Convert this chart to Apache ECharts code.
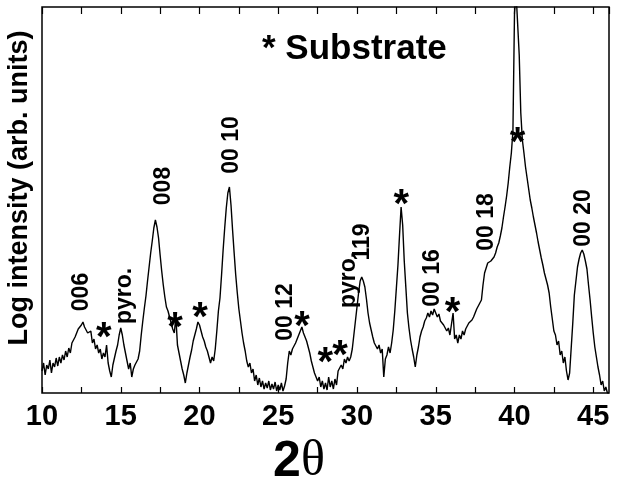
<!DOCTYPE html>
<html>
<head>
<meta charset="utf-8">
<script src="https://cdn.jsdelivr.net/npm/echarts@6/dist/echarts.min.js"></script>
<style>
html,body{margin:0;padding:0;background:#fff;}
#c{width:617px;height:486px;}
</style>
</head>
<body>
<div id="c"></div>
<script>
// 2-theta sampling grid (degrees)
const thetaStart = 10;
const thetaStep = 0.1;
// log intensity (arb. units), one value per 0.1 deg from 10.0 to 46.0
const intensity = [
  22,30,18,28,24,33,20,30,26,35,
  27,36,30,38,33,42,36,45,40,50,
  52,56,60,64,62,68,71,66,64,60,
  58,62,50,54,44,48,40,44,34,40,
  36,48,30,22,16,28,30,42,48,58,
  65,58,48,40,32,24,30,16,24,28,
  28,34,42,58,72,85,97,112,126,140,
  152,165,173,166,155,138,122,108,96,86,
  82,76,70,64,60,76,48,40,32,24,
  18,10,20,28,36,43,52,58,64,71,
  68,62,56,52,46,42,36,30,36,32,
  44,62,82,95,118,143,165,185,200,206,
  188,163,140,118,100,84,72,60,50,42,
  32,26,30,20,24,12,18,8,15,6,
  12,4,10,5,12,3,9,4,11,2,
  8,3,10,2,7,14,30,42,38,44,
  46,50,54,58,62,66,60,56,52,46,
  40,32,26,20,16,12,16,6,12,4,
  10,3,16,6,12,4,14,8,22,24,
  28,24,34,30,36,32,36,44,58,72,
  86,100,112,116,112,106,94,80,70,63,
  56,50,52,44,48,40,44,16,34,38,
  46,40,50,63,82,105,128,158,186,168,
  132,106,80,65,53,44,36,26,38,46,
  56,62,66,72,75,80,76,82,78,84,
  80,76,79,72,74,68,70,62,65,58,
  60,80,54,58,50,58,54,62,58,64,
  64,70,68,73,76,80,84,86,90,93,
  108,120,125,130,128,132,134,136,140,146,
  150,157,165,176,186,197,210,226,240,262,
  380,400,400,338,280,253,240,226,215,204,
  193,185,176,168,160,151,143,135,128,120,
  118,108,100,86,74,62,58,48,52,38,
  42,30,36,22,13,20,45,70,98,112,
  126,134,140,143,139,132,124,108,93,76,
  60,46,36,26,18,8,12,2,6,0,
  0
];
// peak annotations (2theta, intensity of label centre)
const annText = ['006','*','pyro.','008','*','*','00 10','00 12','*','*','*','pyro.','119','*','00 16','*','00 18','*','00 20'];
const annX    = [12.52,13.92,15.25,17.74,18.44,20.03,22.06,25.50,26.51,27.98,28.93,29.50,30.39,32.81,34.78,36.06,38.22,40.19,44.39];
const annY    = [101,63,97,207,73,83,248,81,74,38,45,113,151,196,115,88,171,258,175];
const annVertical = [1,0,1,1,0,0,1,1,0,0,0,1,1,0,1,0,1,0,1];
const legendText = '* Substrate';
const xName = '2';
const xNameSym = 'θ';
const yName = 'Log intensity (arb. units)';

const chart = echarts.init(document.getElementById('c'));
const data = intensity.map((v, i) => [+(thetaStart + i * thetaStep).toFixed(2), v]);
const tickStyle = {color:'#000', width:1.2};
chart.setOption({
  animation:false,
  grid:{left:42, right:8, top:7, bottom:93, show:true, borderColor:'#000', borderWidth:1.5, backgroundColor:'transparent'},
  xAxis:[
    {type:'value', min:10, max:46, interval:2.5, position:'bottom',
     axisLine:{show:false},
     axisTick:{show:true, inside:true, length:6, lineStyle:tickStyle},
     axisLabel:{formatter:v => (v % 5 === 0 ? String(v) : ''), showMaxLabel:false, showMinLabel:true,
       color:'#000', fontFamily:'Liberation Sans', fontWeight:'bold', fontSize:29, margin:9},
     splitLine:{show:false}},
    {type:'value', min:10, max:46, interval:2.5, position:'top',
     axisLine:{show:false},
     axisTick:{show:true, inside:true, length:7, lineStyle:tickStyle},
     axisLabel:{show:false}, splitLine:{show:false}}
  ],
  yAxis:{type:'value', min:0, max:386,
    axisLine:{show:false}, axisTick:{show:false}, axisLabel:{show:false}, splitLine:{show:false}},
  series:[{type:'line', data:data, xAxisIndex:0, yAxisIndex:0, symbol:'none', showSymbol:false,
    clip:true, lineStyle:{color:'#000', width:1.4}}]
});

const graphics = annText.map((t, i) => {
  const p = chart.convertToPixel({xAxisIndex:0, yAxisIndex:0}, [annX[i], annY[i]]);
  const star = t === '*';
  const fs = star ? 40 : 23;
  return {type:'text', x:p[0], y:p[1] + (star ? fs * 0.23 : 0),
    rotation: annVertical[i] ? Math.PI / 2 : 0, z:10,
    style:{text:t, fill:'#000', fontFamily:'Liberation Sans', fontWeight:'bold', fontSize:fs,
      align:'center', verticalAlign:'middle'}};
});
graphics.push({type:'text', x:262, y:49, z:10,
  style:{text:legendText, fill:'#000', fontFamily:'Liberation Sans', fontWeight:'bold', fontSize:35,
    align:'left', verticalAlign:'middle'}});
graphics.push({type:'text', x:20, y:188, rotation:Math.PI / 2, z:10,
  style:{text:yName, fill:'#000', fontFamily:'Liberation Sans', fontWeight:'bold', fontSize:27,
    align:'center', verticalAlign:'middle'}});
graphics.push({type:'text', x:299, y:462, z:10,
  style:{text:'{a|' + xName + '}{b|' + xNameSym + '}', align:'center', verticalAlign:'middle',
    rich:{a:{fontFamily:'Liberation Sans', fontWeight:'bold', fontSize:50, fill:'#000'},
          b:{fontFamily:'Liberation Serif', fontSize:50, fill:'#000'}}}});
chart.setOption({graphic:graphics});
</script>
</body>
</html>
